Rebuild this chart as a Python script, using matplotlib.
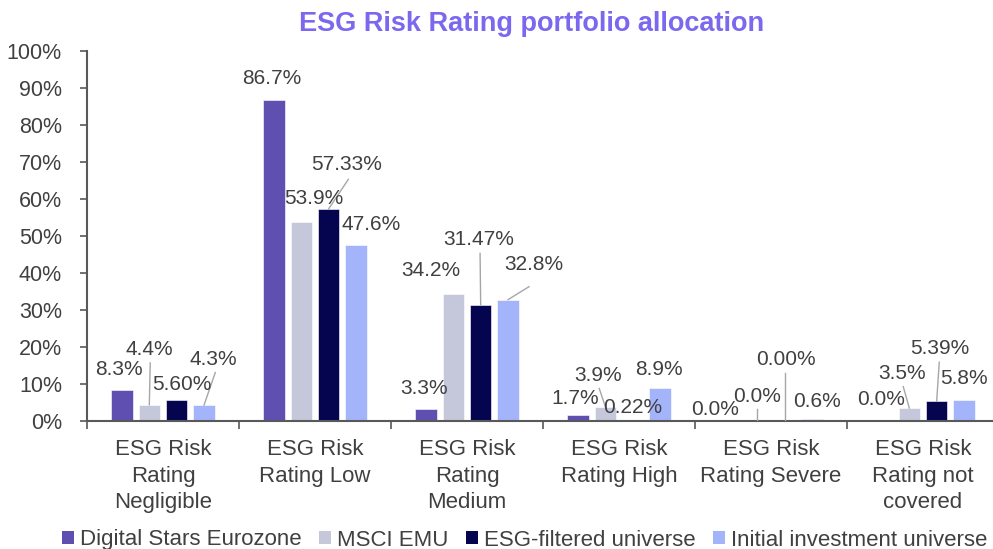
import numpy as np
import matplotlib.pyplot as plt
from matplotlib.patches import Patch

plt.rcParams['font.family'] = ['Liberation Sans', 'DejaVu Sans']

categories = ["ESG Risk\nRating\nNegligible", "ESG Risk\nRating Low", "ESG Risk\nRating\nMedium",
              "ESG Risk\nRating High", "ESG Risk\nRating Severe", "ESG Risk\nRating not\ncovered"]
series = ["Digital Stars Eurozone", "MSCI EMU", "ESG-filtered universe", "Initial investment universe"]
digital_stars = [8.3, 86.7, 3.3, 1.7, 0.0, 0.0]
msci_emu = [4.4, 53.9, 34.2, 3.9, 0.0, 3.5]
esg_filtered = [5.60, 57.33, 31.47, 0.22, 0.00, 5.39]
initial_universe = [4.3, 47.6, 32.8, 8.9, 0.6, 5.8]
label_fmt = ["{:.1f}%", "{:.1f}%", "{:.2f}%", "{:.1f}%"]

colors = ["#5E4FB0", "#C5C8DA", "#04044F", "#A3B4FB"]
values = [digital_stars, msci_emu, esg_filtered, initial_universe]

# label placement: (x offset from category centre, y) per series/category
label_pos = [
    [(-0.29, 13.8), (-0.283, 92.7), (-0.285, 8.8), (-0.29, 6.1), (-0.37, 3.2), (-0.274, 5.9)],
    [(-0.092, 19.4), (-0.01, 60.0), (-0.237, 40.6), (-0.14, 12.4), (-0.093, 6.6), (-0.136, 12.9)],
    [(0.123, 9.9), (0.21, 69.2), (0.078, 49.1), (0.092, 3.7), (0.095, 16.7), (0.111, 19.6)],
    [(0.33, 16.7), (0.37, 53.2), (0.44, 42.2), (0.265, 14.0), (0.30, 5.2), (0.27, 11.5)],
]
# leader lines: (series, category, start x offset, start y)
leaders = [
    (1, 0, -0.084, 15.7), (3, 0, 0.344, 13.1), (2, 1, 0.219, 65.3),
    (2, 2, 0.086, 45.3), (3, 2, 0.408, 36.3), (1, 3, -0.13, 8.8),
    (1, 4, None, 3.2), (2, 4, None, 13.1), (1, 5, -0.13, 9.3), (2, 5, 0.107, 15.9),
]

fig = plt.figure(figsize=(9.93, 5.49), dpi=100)
ax = fig.add_axes([87 / 993, 128 / 549, 912 / 993, 370 / 549])

x = np.arange(len(categories))
step = 0.18
width = 0.14
offsets = (np.arange(4) - 1.5) * step
txt_color = "#404040"

for s in range(4):
    ax.bar(x + offsets[s], values[s], width, color=colors[s], edgecolor="white", linewidth=0.4, zorder=2)
    for c in range(len(categories)):
        dx, ly = label_pos[s][c]
        ax.text(c + dx, ly, label_fmt[s].format(values[s][c]), ha="center", va="center",
                fontsize=15, color=txt_color, zorder=4)

for s, c, dx, y0 in leaders:
    bx = c + offsets[s]
    sx = bx if dx is None else c + dx
    ax.plot([sx, bx], [y0, values[s][c]], color="#A6A6A6", lw=1, zorder=3)

ax.set_xlim(-0.5, len(categories) - 0.5)
ax.set_ylim(0, 100)
ax.set_yticks(np.arange(0, 101, 10))
ax.set_yticklabels([f"{v}%" for v in range(0, 101, 10)])
ax.set_xticks(np.arange(len(categories) + 1) - 0.5)
ax.set_xticklabels([])
ax.set_xticks(x, minor=True)
ax.set_xticklabels(categories, minor=True, fontsize=16, color=txt_color, linespacing=1.35)
ax.tick_params(axis="x", which="major", length=6, width=1.2, color="#595959", direction="out")
ax.tick_params(axis="x", which="minor", length=0, pad=13)
ax.tick_params(axis="y", length=5, width=1.2, color="#595959", pad=13, labelsize=15.5, labelcolor=txt_color)

for side in ["top", "right"]:
    ax.spines[side].set_visible(False)
for side in ["left", "bottom"]:
    ax.spines[side].set_color("#595959")
    ax.spines[side].set_linewidth(1.5)

fig.text(532 / 993, 1 - 24 / 549, "ESG Risk Rating portfolio allocation", ha="center", va="center",
         fontsize=19.5, fontweight="bold", color="#7B68EE")

handles = [Patch(facecolor=col, edgecolor="none") for col in colors]
fig.legend(handles, series, loc="center left", bbox_to_anchor=(62 / 993, 9 / 549), ncol=4,
           frameon=False, fontsize=16, handlelength=0.55, handleheight=0.55, handletextpad=0.27,
           columnspacing=0.77, borderpad=0, borderaxespad=0, labelcolor=txt_color)

fig.savefig("out.png", dpi=100)
